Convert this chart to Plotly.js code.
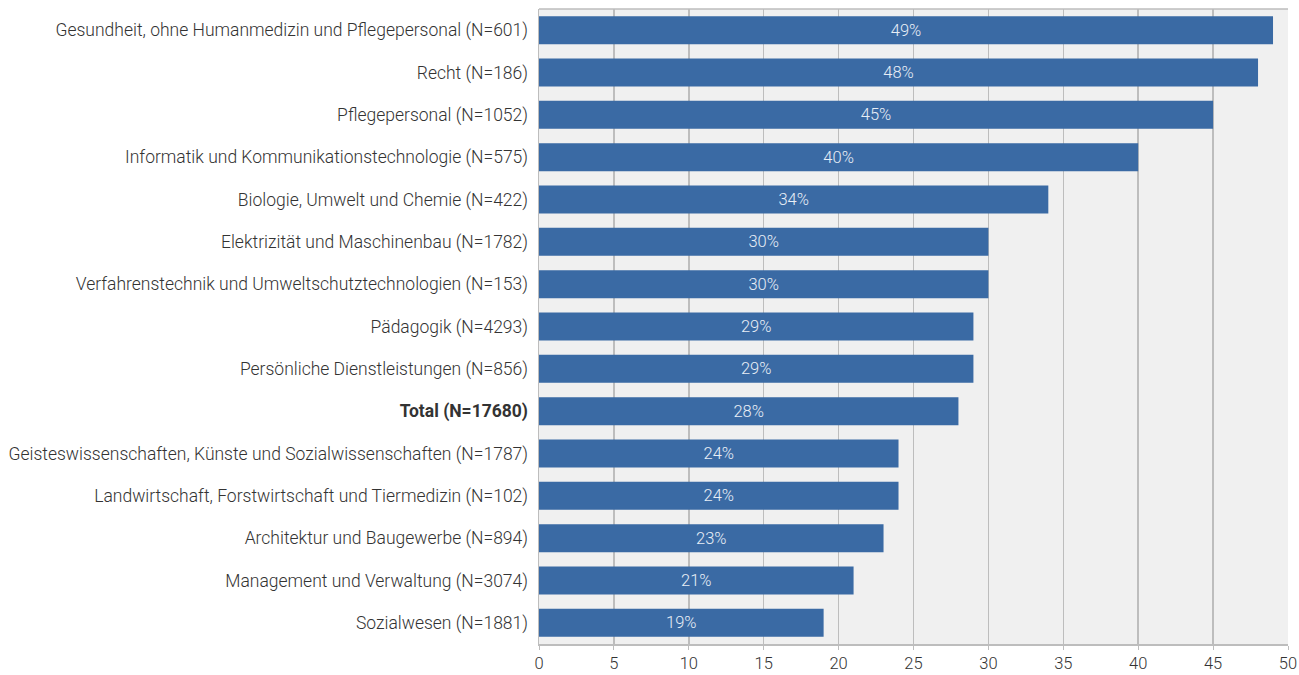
<!DOCTYPE html>
<html><head><meta charset="utf-8">
<script src="https://cdn.plot.ly/plotly-3.0.1.min.js"></script>
<style>html,body{margin:0;padding:0;background:#fff}#c{width:1299px;height:675px}</style>
</head><body><div id="c"></div>
<script>
const categories = [
  "Gesundheit, ohne Humanmedizin und Pflegepersonal (N=601)",
  "Recht (N=186)",
  "Pflegepersonal (N=1052)",
  "Informatik und Kommunikationstechnologie (N=575)",
  "Biologie, Umwelt und Chemie (N=422)",
  "Elektrizität und Maschinenbau (N=1782)",
  "Verfahrenstechnik und Umweltschutztechnologien (N=153)",
  "Pädagogik (N=4293)",
  "Persönliche Dienstleistungen (N=856)",
  "<b>Total (N=17680)</b>",
  "Geisteswissenschaften, Künste und Sozialwissenschaften (N=1787)",
  "Landwirtschaft, Forstwirtschaft und Tiermedizin (N=102)",
  "Architektur und Baugewerbe (N=894)",
  "Management und Verwaltung (N=3074)",
  "Sozialwesen (N=1881)"
];
const values = [49, 48, 45, 40, 34, 30, 30, 29, 29, 28, 24, 24, 23, 21, 19];
const xTicks = [0, 5, 10, 15, 20, 25, 30, 35, 40, 45, 50];

Plotly.newPlot('c', [{
  type: 'bar',
  orientation: 'h',
  y: categories,
  x: values,
  text: values.map(v => v + '%'),
  textposition: 'inside',
  insidetextanchor: 'middle',
  textfont: {color: '#e8eef6', size: 16.5, family: 'Roboto', weight: 300},
  marker: {color: '#3a6aa4'},
  hoverinfo: 'skip'
}], {
  width: 1299, height: 675,
  margin: {l: 539, r: 11, t: 9, b: 31},
  paper_bgcolor: '#ffffff',
  plot_bgcolor: '#f0f0f0',
  bargap: 0.34,
  showlegend: false,
  font: {family: 'Roboto', size: 17.5, color: '#333333', weight: 300},
  xaxis: {
    range: [0, 50], tickvals: xTicks, ticktext: xTicks.map(String),
    showgrid: true, gridcolor: '#bdbdbd', gridwidth: 1.5,
    zeroline: false, showline: true, linecolor: '#bdbdbd', linewidth: 1.5,
    ticks: 'outside', ticklen: 4, tickcolor: '#bdbdbd', ticklabelstandoff: 0,
    tickfont: {size: 16.5, color: '#333333'}, fixedrange: true
  },
  yaxis: {
    autorange: 'reversed', type: 'category',
    showline: true, linecolor: '#bdbdbd', linewidth: 1.5, mirror: false,
    showgrid: false, ticks: '', ticklabelstandoff: 6,
    tickfont: {size: 17.5, color: '#333333'}, fixedrange: true
  },
  shapes: [{type: 'line', xref: 'paper', yref: 'paper', x0: 0, x1: 1, y0: 1, y1: 1,
    line: {color: '#bdbdbd', width: 1.5}}]
}, {displayModeBar: false, staticPlot: true});
</script></body></html>
